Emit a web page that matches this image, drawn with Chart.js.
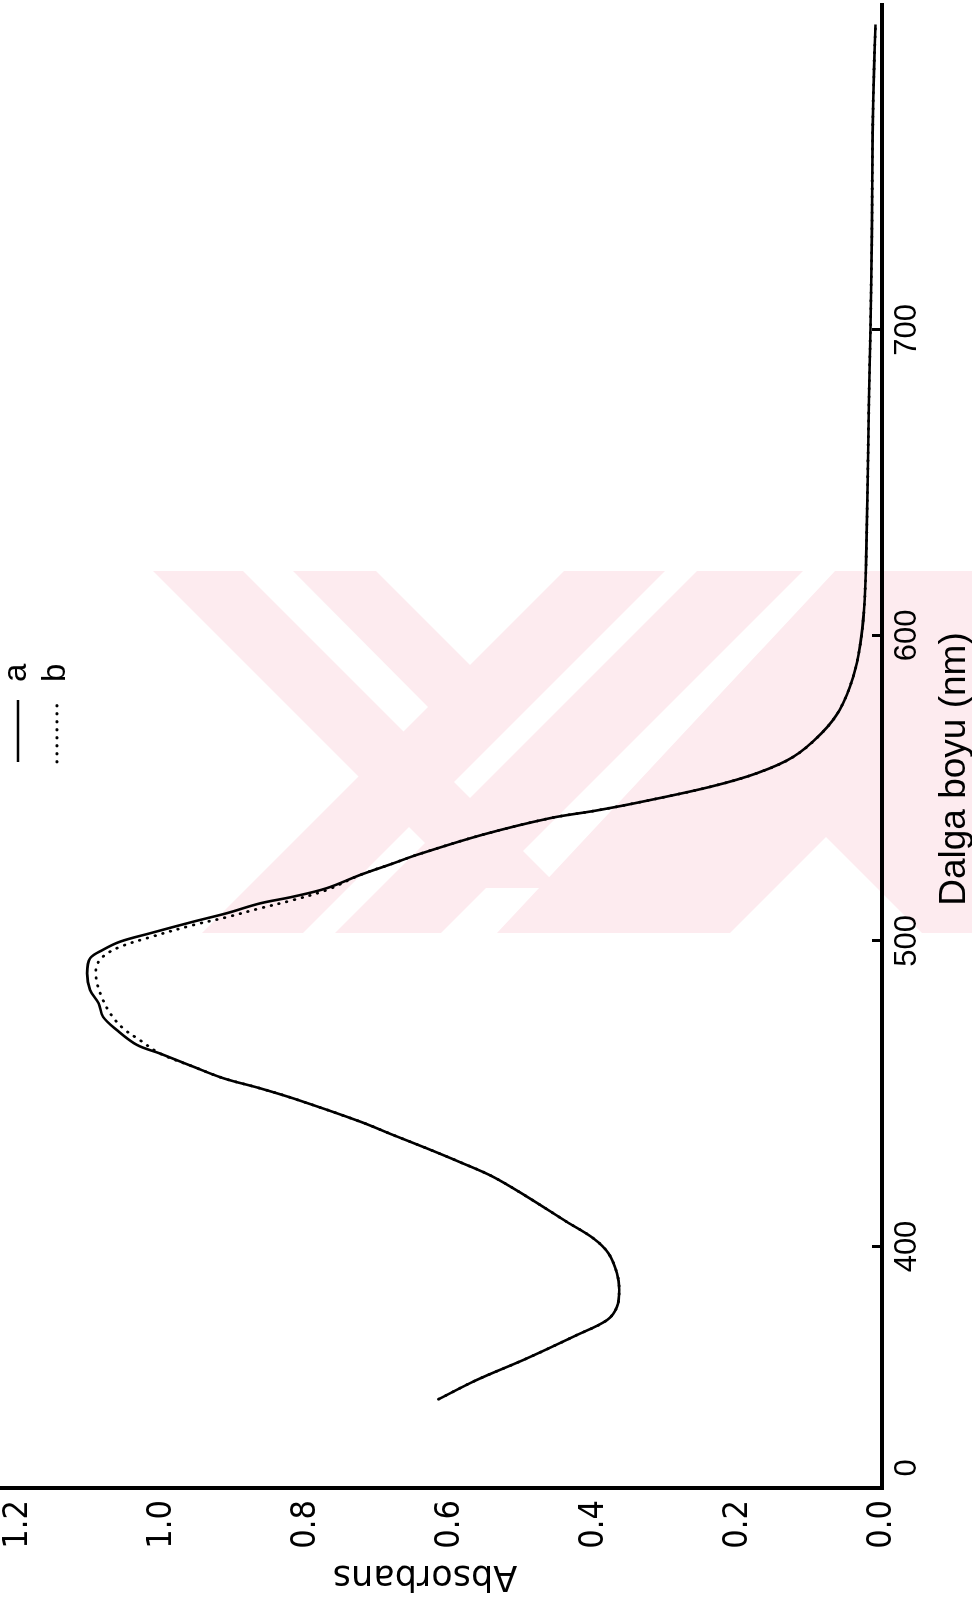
<!DOCTYPE html>
<html>
<head>
<meta charset="utf-8">
<script src="https://cdn.jsdelivr.net/npm/chart.js@4.4.1/dist/chart.umd.min.js"></script>
<style>
  html, body { margin: 0; padding: 0; background: #fff; }
  body { width: 972px; height: 1600px; position: relative; overflow: hidden; }
  #mark { position: absolute; left: 0; top: 0; width: 972px; height: 1600px; }
  /* The spectrum is laid out with wavelength running left to right, then the
     whole sheet is turned a quarter turn so wavelength runs up the page. */
  #sheet {
    position: absolute; left: 0; top: 0; width: 1600px; height: 972px;
    transform-origin: 0 0; transform: translate(0, 1600px) rotate(-90deg);
  }
</style>
</head>
<body>
<svg id="mark" viewBox="0 0 972 1600" xmlns="http://www.w3.org/2000/svg">
  <defs>
    <clipPath id="band"><rect x="153" y="571" width="827" height="362"/></clipPath>
  </defs>
  <g clip-path="url(#band)" fill="#fdebef">
    <polygon points="153,571 243,571 560,888 470,888"/>
    <polygon points="293,571 376,571 472,667 430,709"/>
    <polygon points="564,571 665,571 303,933 202,933"/>
    <polygon points="697,571 803,571 441,933 335,933"/>
    <polygon points="835,571 980,571 980,933 922,933 826,837 730,933 497,933"/>
  </g>
</svg>
<div id="sheet"><canvas id="c" width="1600" height="972"></canvas></div>
<script>
// Absorption spectra, wavelength in nm against absorbance
const waveA = [350, 356.3, 363.4, 371, 375.9, 380.3, 385.8, 391.2, 397.8, 402.7,
  408.1, 416.3, 422.8, 427.6, 432.1, 436.5, 440.9, 448.5, 451.8, 455.1,
  458.9, 463.2, 466, 470.9, 475.2, 479.6, 484, 489.4, 494.3, 497.1,
  499.8, 502.5, 506.3, 509.1, 512.3, 514.5, 517.3, 521.6, 525.4, 528.2,
  534.7, 540.2, 542.7, 545.6, 550.5, 554.9, 560.3, 568, 575.6, 586.5,
  597.4, 608.3, 624.7, 678.2, 700.6, 731.8, 764.5, 786.2, 800];
const absA = [0.616, 0.563, 0.493, 0.424, 0.382, 0.368, 0.365, 0.368, 0.380, 0.401,
  0.438, 0.493, 0.540, 0.586, 0.632, 0.679, 0.725, 0.818, 0.864, 0.915,
  0.957, 1.003, 1.035, 1.063, 1.082, 1.088, 1.100, 1.104, 1.100, 1.082,
  1.058, 1.017, 0.957, 0.910, 0.864, 0.818, 0.771, 0.725, 0.679, 0.646,
  0.556, 0.461, 0.397, 0.333, 0.238, 0.174, 0.123, 0.084, 0.059, 0.040,
  0.030, 0.025, 0.022, 0.018, 0.016, 0.014, 0.013, 0.011, 0.009];

const waveB = [350, 356.3, 363.4, 371, 375.9, 380.3, 385.8, 391.2, 397.8, 402.7,
  408.1, 416.3, 422.8, 427.6, 432.1, 436.5, 440.9, 448.5, 451.8, 455.1,
  458.9, 463.2, 467.6, 471.4, 476.3, 481.8, 487.2, 491.6, 494.9, 498.1,
  501.2, 505.2, 507.8, 510.7, 513.4, 516.7, 521.6, 525.4, 528.2,
  534.7, 540.2, 542.7, 545.6, 550.5, 554.9, 560.3, 568, 575.6, 586.5,
  597.4, 608.3, 624.7, 678.2, 700.6, 731.8, 764.5, 786.2, 800];
const absB = [0.616, 0.563, 0.493, 0.424, 0.382, 0.368, 0.365, 0.368, 0.380, 0.401,
  0.438, 0.493, 0.540, 0.586, 0.632, 0.679, 0.725, 0.818, 0.864, 0.915,
  0.957, 1.003, 1.031, 1.054, 1.072, 1.084, 1.091, 1.091, 1.082, 1.058,
  1.017, 0.957, 0.910, 0.864, 0.818, 0.771, 0.725, 0.679, 0.646,
  0.556, 0.461, 0.397, 0.333, 0.238, 0.174, 0.123, 0.084, 0.059, 0.040,
  0.030, 0.025, 0.022, 0.018, 0.016, 0.014, 0.013, 0.011, 0.009];

const seriesNames = ['a', 'b'];
const xTickValues = [327.5, 400, 500, 600, 700];
const xTickLabels = ['0', '400', '500', '600', '700'];
const yTickValues = [0, 0.2, 0.4, 0.6, 0.8, 1.0, 1.2];
const yTickLabels = ['0.0', '0.2', '0.4', '0.6', '0.8', '1.0', '1.2'];
const xTitle = 'Dalga boyu (nm)';
const yTitle = 'Absorbans';

const toPoints = (xs, ys) => xs.map((x, i) => ({ x: x, y: ys[i] }));

// Axis titles drawn beside the scales
const axisTitles = {
  id: 'axisTitles',
  afterDraw(chart) {
    const ctx = chart.ctx;
    const area = chart.chartArea;
    ctx.save();
    ctx.fillStyle = '#000';
    ctx.font = '37px "Liberation Sans", Arial, sans-serif';
    ctx.textAlign = 'center';
    ctx.textBaseline = 'alphabetic';
    ctx.fillText(xTitle, area.left + 719, chart.height - 7);
    ctx.translate(25, area.top + 425);
    ctx.rotate(-Math.PI / 2);
    ctx.font = '35px "DejaVu Sans", sans-serif';
    ctx.textBaseline = 'middle';
    ctx.fillText(yTitle, 0, 0);
    ctx.restore();
  }
};

// Key with a line sample for each series
const lineKey = {
  id: 'lineKey',
  afterDraw(chart) {
    const ctx = chart.ctx;
    const x0 = chart.chartArea.left + 726;
    ctx.save();
    chart.data.datasets.forEach((ds, i) => {
      const y = 18 + i * 39;
      ctx.strokeStyle = ds.borderColor;
      ctx.lineWidth = ds.borderWidth;
      ctx.lineCap = ds.borderCapStyle || 'butt';
      ctx.setLineDash(ds.borderDash || []);
      ctx.beginPath();
      ctx.moveTo(x0, y);
      ctx.lineTo(x0 + 62, y);
      ctx.stroke();
      ctx.setLineDash([]);
      ctx.fillStyle = '#000';
      ctx.font = '33px "Liberation Sans", Arial, sans-serif';
      ctx.textAlign = 'left';
      ctx.textBaseline = 'alphabetic';
      ctx.fillText(ds.label, x0 + 80, y + 8);
    });
    ctx.restore();
  }
};

new Chart(document.getElementById('c'), {
  type: 'line',
  data: {
    datasets: [
      {
        label: seriesNames[0],
        data: toPoints(waveA, absA),
        borderColor: '#000',
        borderWidth: 2.6,
        pointRadius: 0,
        tension: 0.35,
        fill: false
      },
      {
        label: seriesNames[1],
        data: toPoints(waveB, absB),
        borderColor: '#000',
        borderWidth: 2.8,
        borderDash: [0.5, 7.5],
        borderCapStyle: 'round',
        pointRadius: 0,
        tension: 0.35,
        fill: false
      }
    ]
  },
  options: {
    responsive: false,
    animation: false,
    devicePixelRatio: 1,
    layout: { padding: { left: 0, top: 0, right: 4, bottom: 0 } },
    plugins: { legend: { display: false }, tooltip: { enabled: false } },
    scales: {
      x: {
        type: 'linear',
        position: 'bottom',
        min: 320.95,
        max: 806.7,
        afterBuildTicks(scale) { scale.ticks = xTickValues.map(v => ({ value: v })); },
        afterFit(scale) { scale.height = 90; scale.paddingLeft = 0; scale.paddingRight = 0; },
        ticks: {
          autoSkip: false,
          maxRotation: 0,
          padding: 17,
          color: '#000',
          font: { family: '"Liberation Sans", Arial, sans-serif', size: 31 },
          callback(value, index) { return xTickLabels[index]; }
        },
        grid: {
          drawOnChartArea: false,
          drawTicks: true,
          tickLength: -10,
          tickWidth: 3,
          tickColor: (c) => (c.index === 0 ? 'rgba(0,0,0,0)' : '#000')
        },
        border: { display: true, color: '#000', width: 4 }
      },
      y: {
        type: 'linear',
        position: 'left',
        min: 0,
        max: 1.225,
        afterBuildTicks(scale) { scale.ticks = yTickValues.map(v => ({ value: v })); },
        afterFit(scale) { scale.width = 112; scale.paddingTop = 0; scale.paddingBottom = 0; },
        ticks: {
          autoSkip: false,
          padding: 12,
          color: '#000',
          font: { family: '"Liberation Sans Narrow", "DejaVu Sans Condensed", sans-serif', size: 34 },
          callback(value, index) { return yTickLabels[index]; }
        },
        grid: { drawOnChartArea: false, drawTicks: false },
        border: { display: true, color: '#000', width: 4 }
      }
    }
  },
  plugins: [axisTitles, lineKey]
});
</script>
</body>
</html>
